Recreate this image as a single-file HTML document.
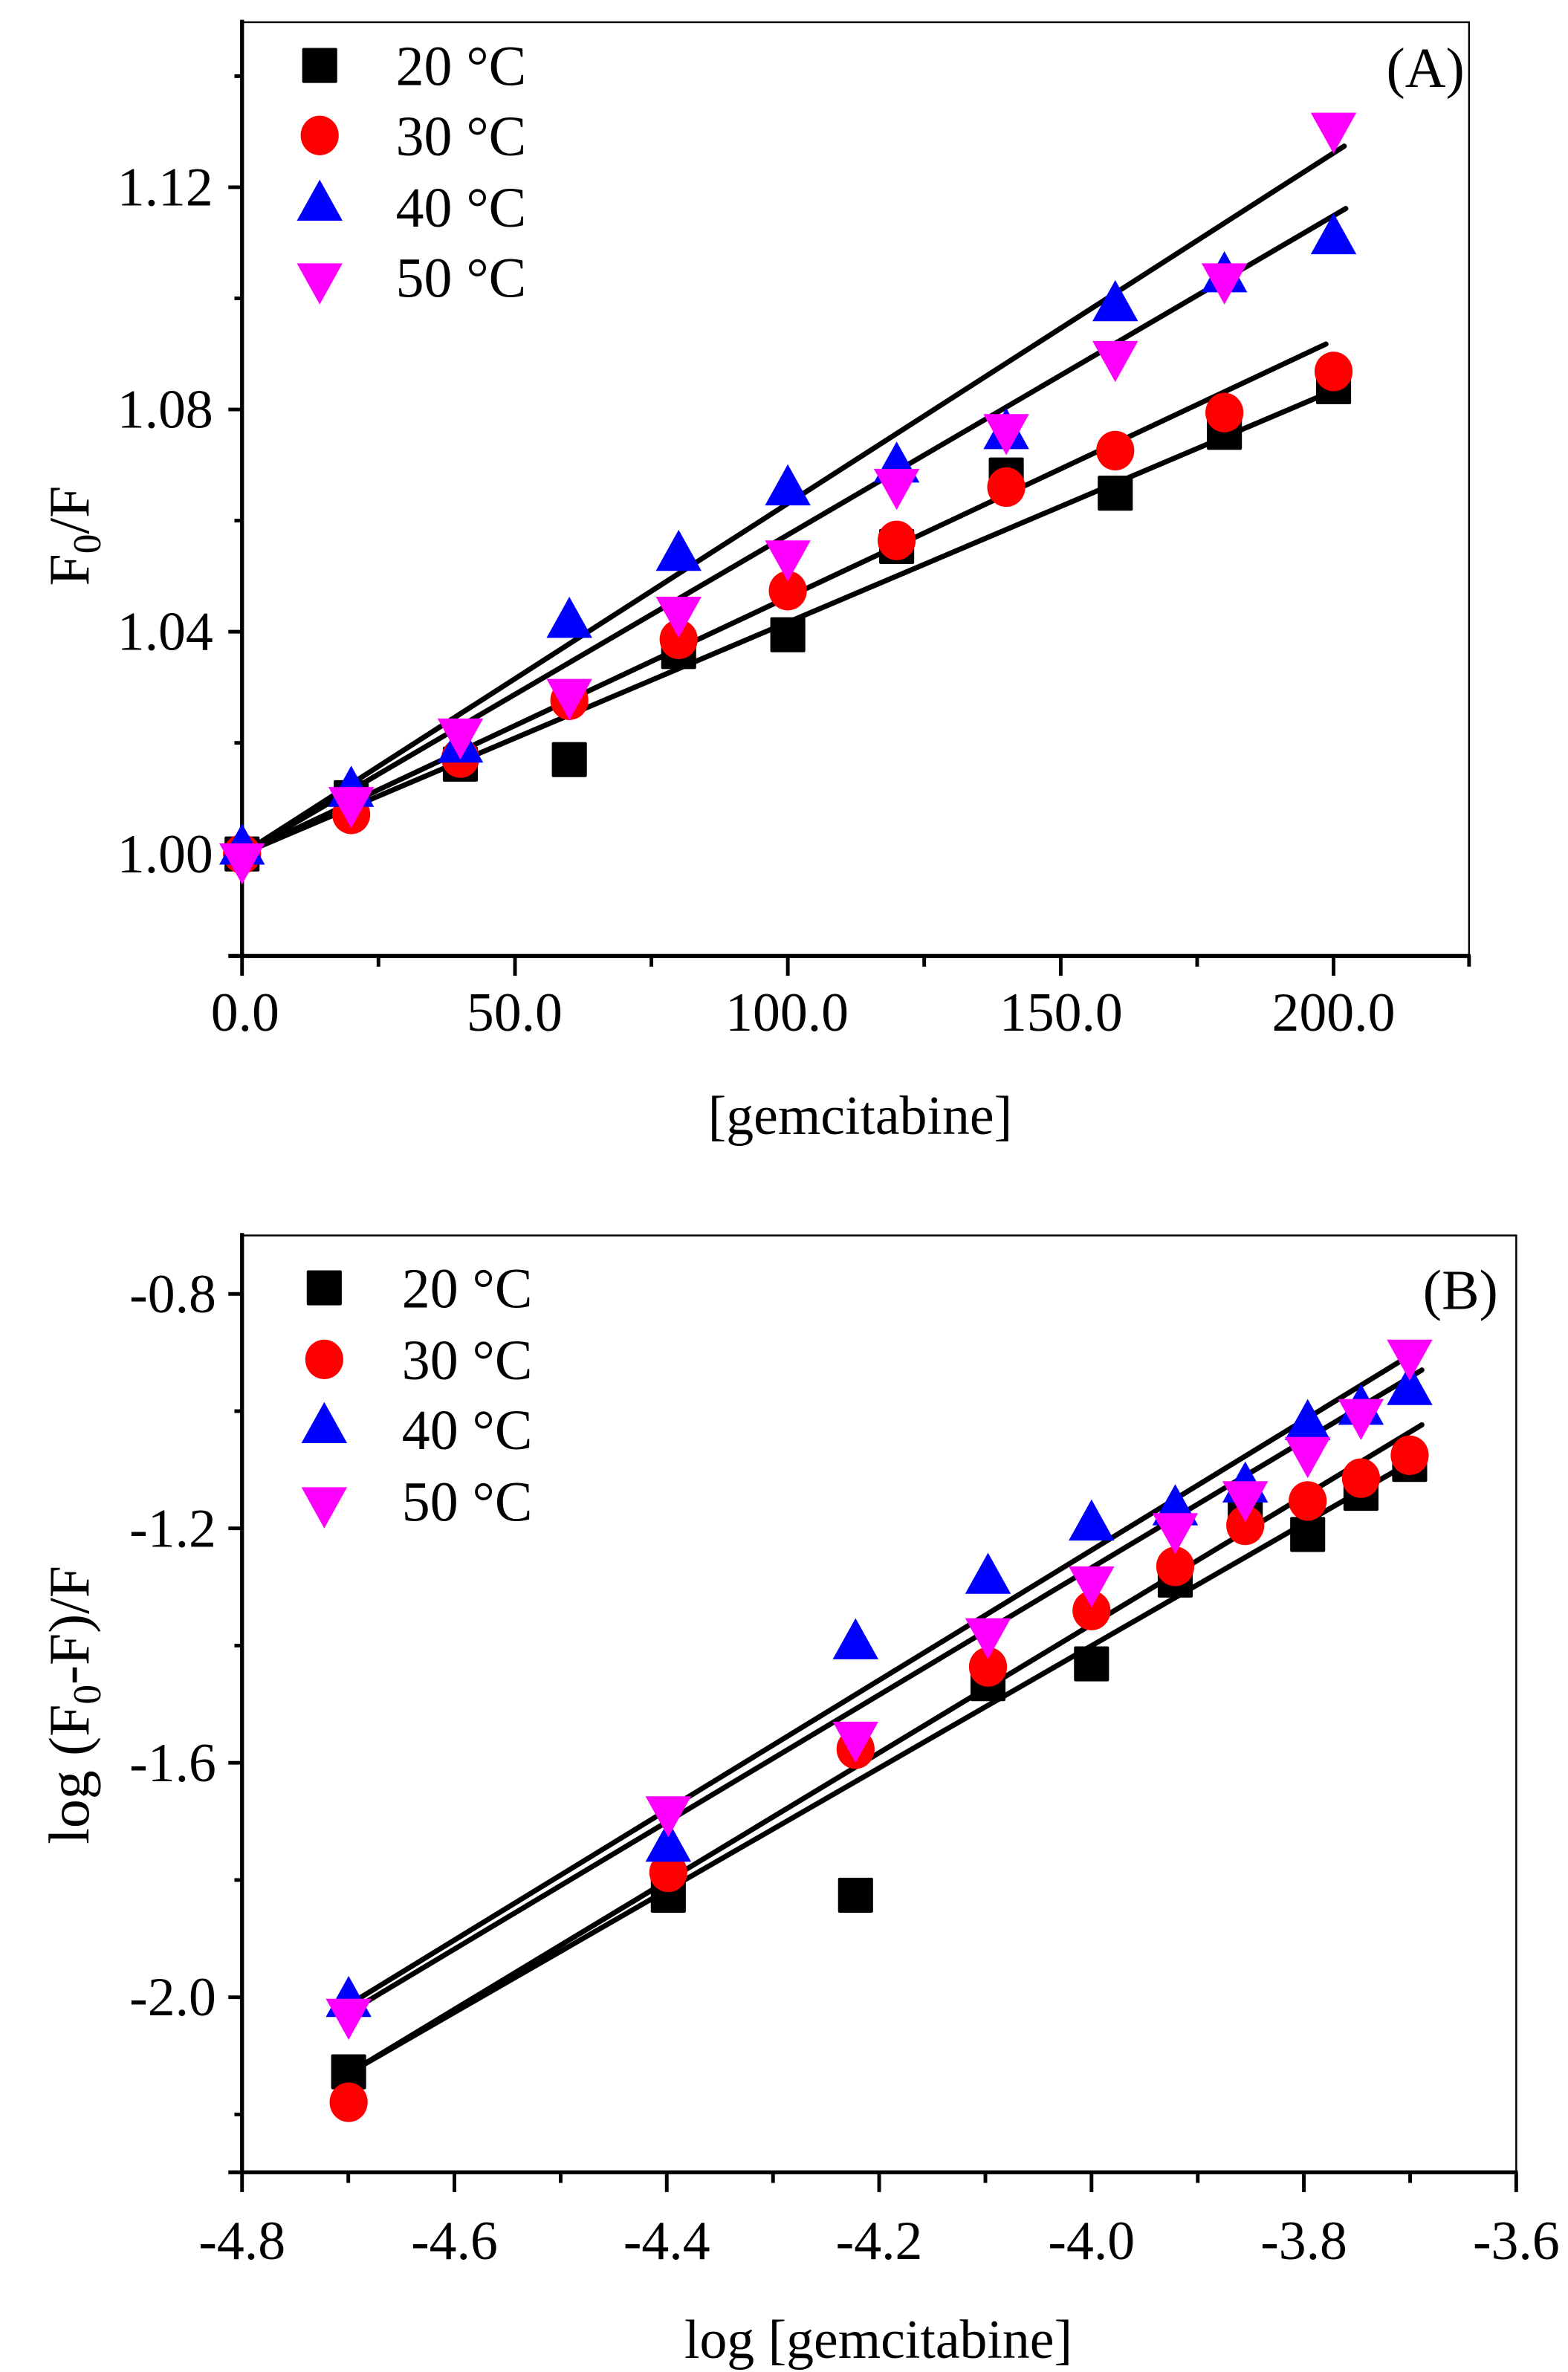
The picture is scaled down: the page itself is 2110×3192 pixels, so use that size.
<!DOCTYPE html>
<html><head><meta charset="utf-8"><style>html,body{margin:0;padding:0;background:#fff}svg{display:block}svg text{font-family:"Liberation Serif","Times New Roman",serif}</style></head>
<body>
<svg xmlns="http://www.w3.org/2000/svg" width="2110" height="3192" viewBox="0 0 1030 1558.2" preserveAspectRatio="none" style="font-family:'Liberation Serif',serif">
<defs>
<rect id="sq" x="-11.5" y="-11.5" width="23" height="23" rx="1" fill="#000"/>
<ellipse id="ci" cx="0" cy="0" rx="12.5" ry="13" fill="#f00"/>
<polygon id="tu" points="0,-18 15,9 -15,9" fill="#00f"/>
<polygon id="td" points="0,18 15,-9 -15,-9" fill="#f0f"/>
</defs>
<rect width="1030" height="1558.2" fill="#fff"/>
<g id="A">
<rect x="159" y="14.6" width="806" height="613.4" fill="none" stroke="#000" stroke-width="1.2"/>
<line x1="159" y1="13" x2="159" y2="629.5" stroke="#000" stroke-width="2.6"/>
<line x1="150" y1="628" x2="966" y2="628" stroke="#000" stroke-width="2.6"/>
<g stroke="#000" stroke-width="2.4">
<line x1="150" y1="561" x2="159" y2="561"/><line x1="150" y1="415" x2="159" y2="415"/><line x1="150" y1="269" x2="159" y2="269"/><line x1="150" y1="123" x2="159" y2="123"/>
<line x1="154" y1="488" x2="159" y2="488"/><line x1="154" y1="342" x2="159" y2="342"/><line x1="154" y1="196" x2="159" y2="196"/><line x1="154" y1="50" x2="159" y2="50"/>
<line x1="159" y1="628" x2="159" y2="641"/><line x1="338.3" y1="628" x2="338.3" y2="641"/><line x1="517.5" y1="628" x2="517.5" y2="641"/><line x1="696.8" y1="628" x2="696.8" y2="641"/><line x1="876" y1="628" x2="876" y2="641"/>
<line x1="248.6" y1="628" x2="248.6" y2="635"/><line x1="427.9" y1="628" x2="427.9" y2="635"/><line x1="607.1" y1="628" x2="607.1" y2="635"/><line x1="786.4" y1="628" x2="786.4" y2="635"/><line x1="965" y1="628" x2="965" y2="635"/>
</g>
<g font-size="36" text-anchor="end">
<text x="140" y="573">1.00</text><text x="140" y="427">1.04</text><text x="140" y="281">1.08</text><text x="140" y="135">1.12</text>
</g>
<g font-size="36" text-anchor="middle">
<text x="161" y="677">0.0</text><text x="338" y="677">50.0</text><text x="517" y="677">100.0</text><text x="697" y="677">150.0</text><text x="876" y="677">200.0</text>
<text x="565" y="745">[gemcitabine]</text>
</g>
<text transform="translate(58,352) rotate(-90)" font-size="38" text-anchor="middle">F<tspan font-size="26" dy="8">0</tspan><tspan dy="-8">/F</tspan></text>
<g stroke="#000" stroke-width="3.4" stroke-linecap="round">
<line x1="159" y1="561" x2="875" y2="257"/>
<line x1="159" y1="561" x2="871" y2="226"/>
<line x1="159" y1="561" x2="884" y2="137"/>
<line x1="159" y1="561" x2="883" y2="96"/>
</g>
<g>
<use href="#sq" x="159" y="561"/><use href="#sq" x="230.7" y="524"/><use href="#sq" x="302.4" y="502"/><use href="#sq" x="374" y="499"/><use href="#sq" x="445.8" y="428"/><use href="#sq" x="517.5" y="417"/><use href="#sq" x="589" y="359"/><use href="#sq" x="661" y="312"/><use href="#sq" x="732.6" y="324"/><use href="#sq" x="804.3" y="284"/><use href="#sq" x="876" y="254"/>
<use href="#ci" x="159" y="561"/><use href="#ci" x="230.7" y="535"/><use href="#ci" x="302.4" y="498"/><use href="#ci" x="374" y="460"/><use href="#ci" x="445.8" y="420"/><use href="#ci" x="517.5" y="388"/><use href="#ci" x="589" y="355"/><use href="#ci" x="661" y="320"/><use href="#ci" x="732.6" y="296"/><use href="#ci" x="804.3" y="271"/><use href="#ci" x="876" y="244"/>
<use href="#tu" x="159" y="559"/><use href="#tu" x="230.7" y="521"/><use href="#tu" x="302.4" y="492"/><use href="#tu" x="374" y="410"/><use href="#tu" x="445.8" y="366"/><use href="#tu" x="517.5" y="323"/><use href="#tu" x="589" y="308"/><use href="#tu" x="661" y="286"/><use href="#tu" x="732.6" y="202"/><use href="#tu" x="804.3" y="183"/><use href="#tu" x="876" y="158"/>
<use href="#td" x="159" y="563"/><use href="#td" x="230.7" y="526"/><use href="#td" x="302.4" y="481"/><use href="#td" x="374" y="455"/><use href="#td" x="445.8" y="401"/><use href="#td" x="517.5" y="364"/><use href="#td" x="589" y="317"/><use href="#td" x="661" y="281"/><use href="#td" x="732.6" y="233"/><use href="#td" x="804.3" y="182"/><use href="#td" x="876" y="83"/>
</g>
<use href="#sq" x="210" y="43"/><use href="#ci" x="210" y="89"/><use href="#tu" x="210" y="136"/><use href="#td" x="210" y="182"/>
<g font-size="37"><text x="260" y="56">20 °C</text><text x="260" y="102">30 °C</text><text x="260" y="149">40 °C</text><text x="260" y="195">50 °C</text>
<text x="962" y="57" text-anchor="end">(A)</text></g>
</g>
<g id="B">
<rect x="159" y="811.6" width="837" height="615.4" fill="none" stroke="#000" stroke-width="1.2"/>
<line x1="159" y1="810" x2="159" y2="1428.5" stroke="#000" stroke-width="2.6"/>
<line x1="150" y1="1427" x2="997" y2="1427" stroke="#000" stroke-width="2.6"/>
<g stroke="#000" stroke-width="2.4">
<line x1="150" y1="850" x2="159" y2="850"/><line x1="150" y1="1004" x2="159" y2="1004"/><line x1="150" y1="1158" x2="159" y2="1158"/><line x1="150" y1="1312" x2="159" y2="1312"/>
<line x1="154" y1="927" x2="159" y2="927"/><line x1="154" y1="1081" x2="159" y2="1081"/><line x1="154" y1="1235" x2="159" y2="1235"/><line x1="154" y1="1389" x2="159" y2="1389"/>
<line x1="159" y1="1427" x2="159" y2="1440"/><line x1="298.5" y1="1427" x2="298.5" y2="1440"/><line x1="438" y1="1427" x2="438" y2="1440"/><line x1="577.5" y1="1427" x2="577.5" y2="1440"/><line x1="717" y1="1427" x2="717" y2="1440"/><line x1="856.5" y1="1427" x2="856.5" y2="1440"/><line x1="996" y1="1427" x2="996" y2="1440"/>
<line x1="228.8" y1="1427" x2="228.8" y2="1434"/><line x1="368.3" y1="1427" x2="368.3" y2="1434"/><line x1="507.8" y1="1427" x2="507.8" y2="1434"/><line x1="647.3" y1="1427" x2="647.3" y2="1434"/><line x1="786.8" y1="1427" x2="786.8" y2="1434"/><line x1="926.3" y1="1427" x2="926.3" y2="1434"/>
</g>
<g font-size="36" text-anchor="end">
<text x="142" y="862">-0.8</text><text x="142" y="1016">-1.2</text><text x="142" y="1170">-1.6</text><text x="142" y="1324">-2.0</text>
</g>
<g font-size="36" text-anchor="middle">
<text x="159" y="1484">-4.8</text><text x="298.5" y="1484">-4.6</text><text x="438" y="1484">-4.4</text><text x="577.5" y="1484">-4.2</text><text x="717" y="1484">-4.0</text><text x="856.5" y="1484">-3.8</text><text x="996" y="1484">-3.6</text>
<text x="577" y="1549">log [gemcitabine]</text>
</g>
<text transform="translate(58,1120) rotate(-90)" font-size="38" text-anchor="middle">log (F<tspan font-size="26" dy="8">0</tspan><tspan dy="-8">-F)/F</tspan></text>
<g stroke="#000" stroke-width="3.4" stroke-linecap="round">
<line x1="229" y1="1317" x2="930" y2="888"/>
<line x1="229" y1="1322" x2="934" y2="900"/>
<line x1="229" y1="1362" x2="934" y2="936"/>
<line x1="229" y1="1362" x2="924" y2="962"/>
</g>
<g>
<use href="#sq" x="229" y="1361"/><use href="#sq" x="439" y="1245"/><use href="#sq" x="562" y="1245"/><use href="#sq" x="649" y="1106"/><use href="#sq" x="717" y="1093"/><use href="#sq" x="772" y="1038"/><use href="#sq" x="818" y="996"/><use href="#sq" x="859" y="1008"/><use href="#sq" x="894" y="981"/><use href="#sq" x="926" y="962"/>
<use href="#ci" x="229" y="1381"/><use href="#ci" x="439" y="1230"/><use href="#ci" x="562" y="1149"/><use href="#ci" x="649" y="1095"/><use href="#ci" x="717" y="1058"/><use href="#ci" x="772" y="1029"/><use href="#ci" x="818" y="1002"/><use href="#ci" x="859" y="986"/><use href="#ci" x="894" y="971"/><use href="#ci" x="926" y="956"/>
<use href="#tu" x="229" y="1316"/><use href="#tu" x="439" y="1214"/><use href="#tu" x="562" y="1081"/><use href="#tu" x="649" y="1038"/><use href="#tu" x="717" y="1003"/><use href="#tu" x="772" y="993"/><use href="#tu" x="818" y="978"/><use href="#tu" x="859" y="937"/><use href="#tu" x="894" y="927"/><use href="#tu" x="926" y="914"/>
<use href="#td" x="229" y="1322"/><use href="#td" x="439" y="1189"/><use href="#td" x="562" y="1140"/><use href="#td" x="649" y="1072"/><use href="#td" x="717" y="1038"/><use href="#td" x="772" y="1003"/><use href="#td" x="818" y="982"/><use href="#td" x="859" y="953"/><use href="#td" x="894" y="928"/><use href="#td" x="926" y="889"/>
</g>
<use href="#sq" x="213" y="846"/><use href="#ci" x="213" y="893"/><use href="#tu" x="213" y="939"/><use href="#td" x="213" y="986"/>
<g font-size="37"><text x="264" y="859">20 °C</text><text x="264" y="906">30 °C</text><text x="264" y="952">40 °C</text><text x="264" y="999">50 °C</text>
<text x="984" y="860" text-anchor="end">(B)</text></g>
</g>
</svg>
</body></html>
